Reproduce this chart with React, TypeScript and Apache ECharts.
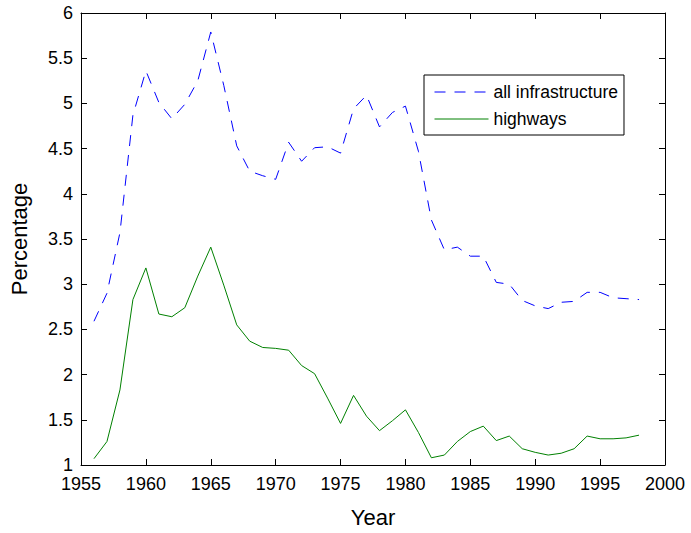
import React, { useEffect, useRef } from "react";
import * as echarts from "echarts";

const years = [1956,1957,1958,1959,1960,1961,1962,1963,1964,1965,1966,1967,1968,1969,1970,1971,1972,1973,1974,1975,1976,1977,1978,1979,1980,1981,1982,1983,1984,1985,1986,1987,1988,1989,1990,1991,1992,1993,1994,1995,1996,1997,1998];
const allInfrastructure = [2.59,2.9,3.57,4.87,5.36,5.01,4.83,4.99,5.25,5.79,5.2,4.53,4.25,4.2,4.16,4.57,4.36,4.51,4.52,4.45,4.94,5.09,4.74,4.9,4.97,4.47,3.71,3.38,3.41,3.31,3.31,3.02,3.0,2.82,2.76,2.73,2.8,2.81,2.91,2.91,2.85,2.84,2.83];
const highways = [1.07,1.26,1.83,2.83,3.18,2.67,2.64,2.74,3.09,3.41,2.99,2.55,2.37,2.3,2.29,2.27,2.1,2.01,1.74,1.46,1.77,1.54,1.38,1.49,1.61,1.36,1.08,1.11,1.26,1.37,1.43,1.27,1.32,1.18,1.14,1.11,1.13,1.18,1.32,1.29,1.29,1.3,1.33];
const seriesNames = ["all infrastructure", "highways"];

const FONT = "'Liberation Sans', Arial, Helvetica, sans-serif";

export default function App() {
  const ref = useRef<HTMLDivElement>(null);
  useEffect(() => {
    if (!ref.current) return;
    const chart = echarts.init(ref.current, null, { renderer: "svg" });
    const axisCommon = {
      axisLine: { show: true, lineStyle: { color: "#000", width: 1 } },
      axisTick: { show: true, inside: true, length: 6, lineStyle: { color: "#000" } },
      splitLine: { show: false },
    };
    chart.setOption({
      animation: false,
      backgroundColor: "#fff",
      textStyle: { fontFamily: FONT },
      grid: { left: 79, right: 26, top: 13, bottom: 59, containLabel: false },
      legend: {
        data: seriesNames,
        orient: "vertical",
        left: 424,
        top: 75,
        padding: [8, 6, 7, 10],
        itemWidth: 54,
        itemHeight: 16,
        itemGap: 9,
        borderColor: "#000",
        borderWidth: 1,
        backgroundColor: "#fff",
        borderRadius: 0,
        itemStyle: { opacity: 0 },
        lineStyle: { width: 1 },
        textStyle: { fontSize: 17.5, color: "#000", fontFamily: FONT },
      },
      xAxis: [
        {
          type: "value",
          min: 1955,
          max: 2000,
          interval: 5,
          name: "Year",
          nameLocation: "middle",
          nameGap: 41,
          nameTextStyle: { fontSize: 22, color: "#000", fontFamily: FONT },
          axisLabel: { color: "#000", fontSize: 18, margin: 10, fontFamily: FONT, formatter: (v: number) => String(v) },
          ...axisCommon,
        },
        {
          type: "value",
          position: "top",
          min: 1955,
          max: 2000,
          interval: 5,
          axisLabel: { show: false },
          ...axisCommon,
        },
      ],
      yAxis: [
        {
          type: "value",
          min: 1,
          max: 6,
          interval: 0.5,
          name: "Percentage",
          nameLocation: "middle",
          nameGap: 51,
          nameTextStyle: { fontSize: 22, color: "#000", fontFamily: FONT },
          axisLabel: { color: "#000", fontSize: 18, margin: 8, fontFamily: FONT },
          ...axisCommon,
        },
        {
          type: "value",
          position: "right",
          min: 1,
          max: 6,
          interval: 0.5,
          axisLabel: { show: false },
          ...axisCommon,
        },
      ],
      series: [
        {
          name: seriesNames[0],
          type: "line",
          symbol: "none",
          showSymbol: false,
          data: years.map((y, i) => [y, allInfrastructure[i]]),
          lineStyle: { color: "#0000ff", width: 1, type: [11, 9] },
          itemStyle: { color: "#0000ff" },
        },
        {
          name: seriesNames[1],
          type: "line",
          symbol: "none",
          showSymbol: false,
          data: years.map((y, i) => [y, highways[i]]),
          lineStyle: { color: "#008000", width: 1 },
          itemStyle: { color: "#008000" },
        },
      ],
    });
    return () => chart.dispose();
  }, []);
  return <div ref={ref} style={{ width: 691, height: 533, position: "absolute", left: 0, top: 0 }} />;
}
